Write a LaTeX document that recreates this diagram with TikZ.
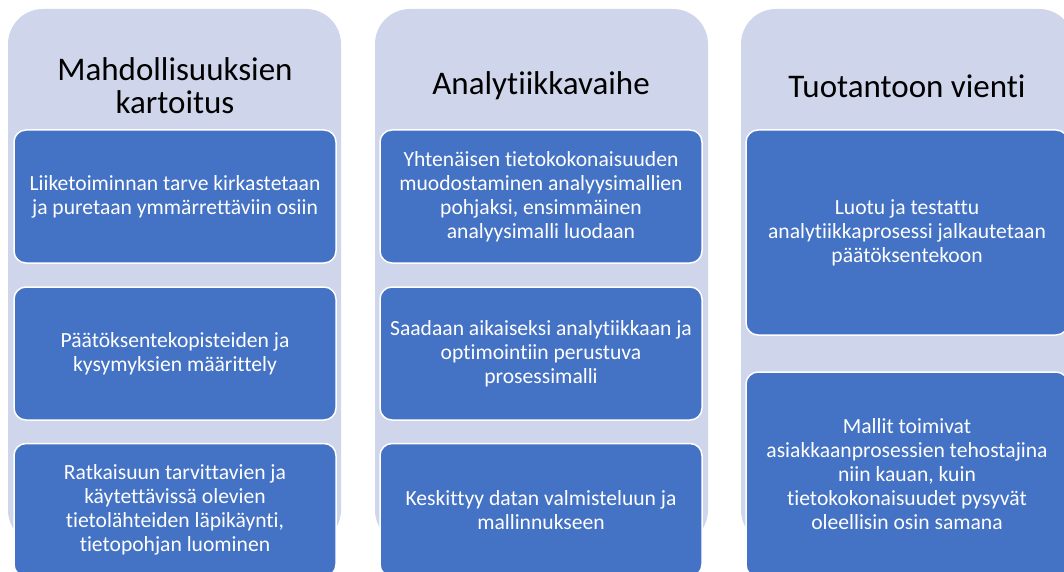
\documentclass[tikz,border=0pt]{standalone}
\usepackage{fontspec}
\setmainfont{Carlito}[Ligatures=NoCommon]
\usetikzlibrary{positioning}

\definecolor{phasebg}{HTML}{CFD5EA}
\definecolor{taskblue}{HTML}{4472C4}

\tikzset{
    phase/.style={fill=phasebg, rounded corners=35pt, minimum width=333pt, minimum height=536pt, inner sep=0pt},
    heading/.style={align=center, text=black, font=\fontsize{33}{33}\selectfont},
    task/.style={fill=taskblue, draw=white, line width=1.5pt, rounded corners=12pt, text=white, align=center,
        minimum width=322pt, minimum height=133pt, inner sep=0pt, font=\fontsize{21.6}{24}\selectfont},
    tasktall/.style={task, minimum height=205pt}
}

\begin{document}
\begin{tikzpicture}[x=1pt, y=-1pt]
    \useasboundingbox (0, 0) rectangle (1064, 572);
    \clip (0, 0) rectangle (1064, 572);

    %% Columns
    \node[phase] (bg1) at (174.5, 277) {};
    \node[phase] (bg2) at (541.5, 277) {};
    \node[phase] (bg3) at (907.5, 277) {};

    % Headings
    \node[heading] (h1) at (175, 86) {Mahdollisuuksien\\kartoitus};
    \node[heading] (h2) at (541, 86) {Analytiikkavaihe};
    \node[heading] (h3) at (907, 86) {Tuotantoon vienti};

    %% Mahdollisuuksien kartoitus
    \node[task] (a1) at (175, 196.5) {Liiketoiminnan tarve kirkastetaan\\ja puretaan ymmärrettäviin osiin};
    \node[task] (a2) at (175, 353.5) {Päätöksentekopisteiden ja\\kysymyksien määrittely};
    \node[task] (a3) at (175, 510) {Ratkaisuun tarvittavien ja\\käytettävissä olevien\\tietolähteiden läpikäynti,\\tietopohjan luominen};

    %% Analytiikkavaihe
    \node[task] (b1) at (541, 196.5) {Yhtenäisen tietokokonaisuuden\\muodostaminen analyysimallien\\pohjaksi, ensimmäinen\\analyysimalli luodaan};
    \node[task] (b2) at (541, 353.5) {Saadaan aikaiseksi analytiikkaan ja\\optimointiin perustuva\\prosessimalli};
    \node[task] (b3) at (541, 510) {Keskittyy datan valmisteluun ja\\mallinnukseen};

    %% Tuotantoon vienti
    \node[tasktall] (c1) at (907, 232.5) {Luotu ja testattu\\analytiikkaprosessi jalkautetaan\\päätöksentekoon};
    \node[tasktall] (c2) at (907, 474.5) {Mallit toimivat\\asiakkaanprosessien tehostajina\\niin kauan, kuin\\tietokokonaisuudet pysyvät\\oleellisin osin samana};
\end{tikzpicture}
\end{document}
